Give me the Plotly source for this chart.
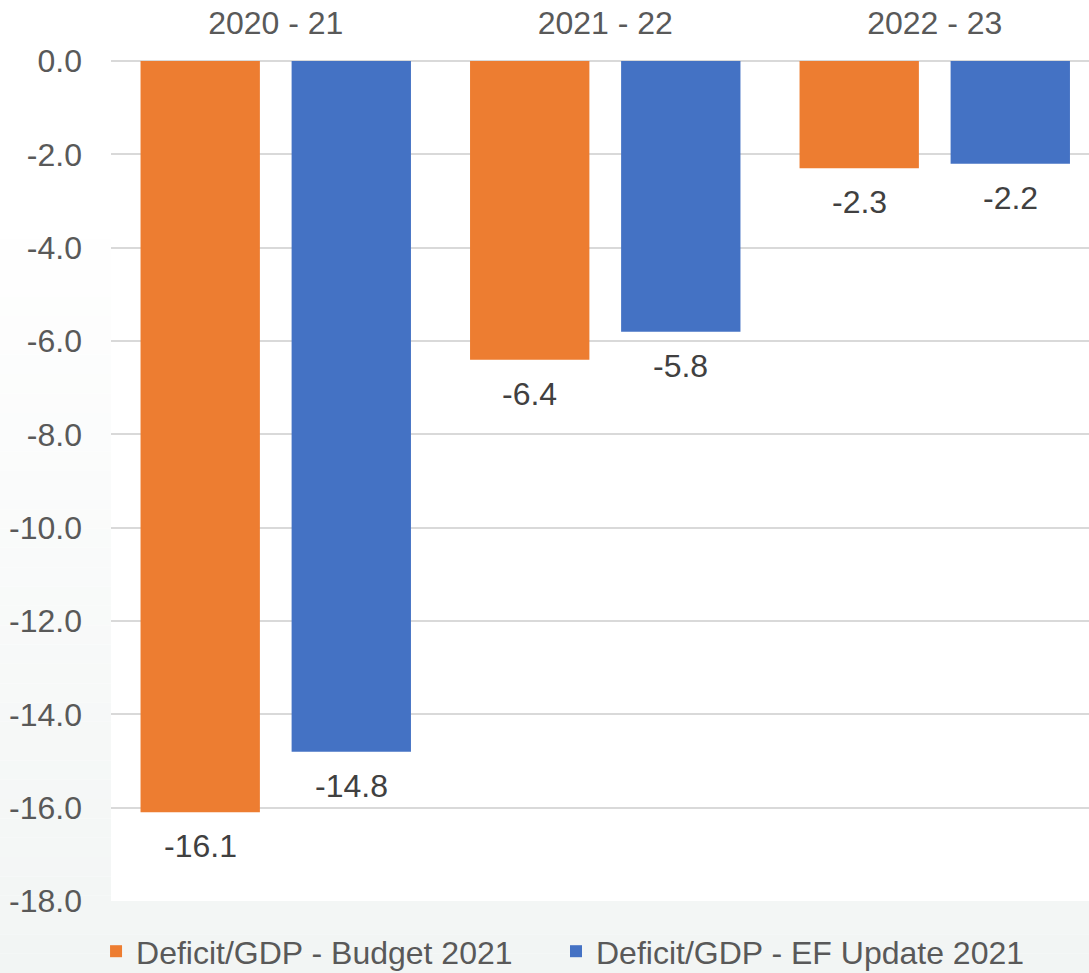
import plotly.graph_objects as go

years = ['2020 - 21', '2021 - 22', '2022 - 23']
budget_2021 = [-16.1, -6.4, -2.3]
ef_update_2021 = [-14.8, -5.8, -2.2]
series_names = ['Deficit/GDP - Budget 2021', 'Deficit/GDP - EF Update 2021']
y_ticks = [0, -2, -4, -6, -8, -10, -12, -14, -16, -18]

ORANGE = '#ED7D31'
BLUE = '#4472C4'
FONT = 'Liberation Sans, Arial, sans-serif'
FS = 32

W, H = 1089, 973
M_L, M_R, M_T, M_B = 111, 0, 61, 72
plot_w = W - M_L - M_R
plot_h = H - M_T - M_B

fig = go.Figure()
for name, vals, col, leg in [(series_names[0], budget_2021, ORANGE, 'legend'),
                             (series_names[1], ef_update_2021, BLUE, 'legend2')]:
    fig.add_trace(go.Bar(x=years, y=vals, name=name, marker_color=col,
                         marker_line_width=0, legend=leg))

# value labels under each bar end (Excel style)
for vals, shift in [(budget_2021, -75.5), (ef_update_2021, 75.5)]:
    for yr, v in zip(years, vals):
        fig.add_annotation(x=yr, y=v, text=f'{v:.1f}', showarrow=False,
                           xshift=shift, yshift=-34, yanchor='middle',
                           font=dict(family=FONT, size=FS, color='#404040'))

# soft vertical gradient in the margins
shapes = []
top_px, bot_px, n = 200, H, 40
left_edge = -M_L / plot_w
for i in range(n):
    p0 = top_px + (bot_px - top_px) * i / n
    p1 = top_px + (bot_px - top_px) * (i + 1) / n
    t = (i + 0.5) / n
    c = 'rgb(%d,%d,%d)' % (round(255 - 13 * t), round(255 - 10 * t), round(255 - 11 * t))
    y0 = (H - M_B - p1) / plot_h
    y1 = (H - M_B - p0) / plot_h
    shapes.append(dict(type='rect', xref='paper', yref='paper', x0=left_edge, x1=0,
                       y0=y0, y1=y1, fillcolor=c, line_width=0, layer='below'))
    if y0 < 0:
        shapes.append(dict(type='rect', xref='paper', yref='paper', x0=0, x1=1.01,
                           y0=y0, y1=min(y1, 0), fillcolor=c, line_width=0, layer='below'))

leg_style = dict(orientation='h', xanchor='left', y=-0.06, yanchor='middle',
                 bgcolor='rgba(0,0,0,0)',
                 font=dict(family=FONT, size=FS, color='#595959'))

cat_px = 329.5
fig.update_layout(
    width=W, height=H,
    margin=dict(l=M_L, r=M_R, t=M_T, b=M_B, autoexpand=False),
    paper_bgcolor='white', plot_bgcolor='white',
    barmode='group', bargap=0.083, bargroupgap=0.21,
    font=dict(family=FONT, size=FS, color='#595959'),
    shapes=shapes,
    showlegend=True,
    legend=dict(x=-0.0153, **leg_style),
    legend2=dict(x=0.455, **leg_style),
)
fig.update_xaxes(side='top', type='category', range=[-0.5, -0.5 + plot_w / cat_px],
                 showgrid=False, zeroline=False, showline=False, ticks='',
                 ticklabelstandoff=20, tickfont=dict(size=FS, color='#595959'))
fig.update_yaxes(range=[-18, 0], tickvals=y_ticks, ticktext=[f'{v:.1f}' for v in y_ticks],
                 showgrid=True, gridcolor='#D9D9D9', gridwidth=1.5,
                 zeroline=True, zerolinecolor='#D9D9D9', zerolinewidth=1.5,
                 showline=False, ticks='', ticklabelstandoff=28,
                 tickfont=dict(size=FS, color='#595959'))

fig.write_html('out.html', config={'displayModeBar': False},
               post_script="document.body.style.margin='0';")
